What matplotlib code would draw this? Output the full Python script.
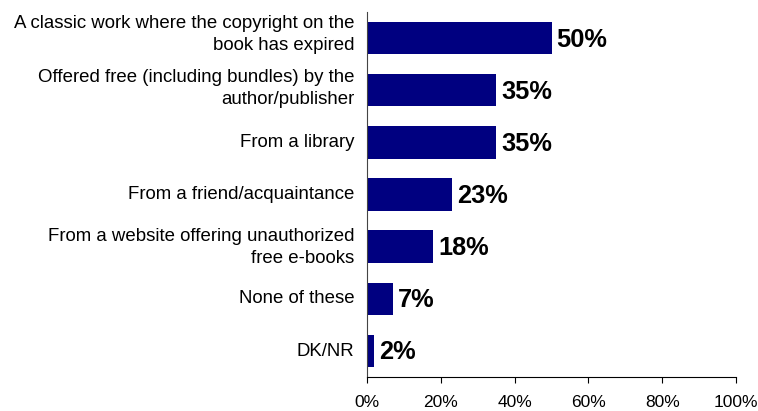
import matplotlib
matplotlib.use("Agg")
import matplotlib.pyplot as plt
from matplotlib.transforms import ScaledTranslation

# Where respondents got free e-books
sources = [
    "A classic work where the copyright on the\nbook has expired",
    "Offered free (including bundles) by the\nauthor/publisher",
    "From a library",
    "From a friend/acquaintance",
    "From a website offering unauthorized\nfree e-books",
    "None of these",
    "DK/NR",
]
shares = [50, 35, 35, 23, 18, 7, 2]
x_ticks = [0, 20, 40, 60, 80, 100]
x_tick_labels = ["0%", "20%", "40%", "60%", "80%", "100%"]

plt.rcParams["font.family"] = ["Liberation Sans", "DejaVu Sans"]

fig = plt.figure(figsize=(7.58, 4.11), dpi=100)
ax = fig.add_axes([367 / 758, 1 - 377 / 411, 369 / 758, 365 / 411])

pos = list(range(len(sources)))
ax.barh(pos, shares, height=0.62, color="#000080")

for p, v in zip(pos, shares):
    ax.text(v + 1.3, p + 0.03, f"{v}%", va="center", ha="left",
            fontsize=18.3, fontweight="bold", color="black")

ax.set_xlim(0, 100)
ax.set_ylim(len(sources) - 0.5, -0.5)
ax.set_yticks(pos)
ax.set_yticklabels(sources, fontsize=13.4, linespacing=1.4, ha="right")
ax.set_xticks(x_ticks)
ax.set_xticklabels(x_tick_labels, fontsize=12.5)

ax.tick_params(axis="y", length=0, pad=9)
ax.tick_params(axis="x", length=4, direction="out", pad=9)

# nudge the category labels up a little (pixels)
lifts = [8, 6, 2, 2, 4, 2, 1]
for lab, dy in zip(ax.get_yticklabels(), lifts):
    lab.set_transform(lab.get_transform() + ScaledTranslation(0, dy / 100, fig.dpi_scale_trans))

ax.spines["top"].set_visible(False)
ax.spines["right"].set_visible(False)
ax.spines["left"].set_color("#444444")

plt.savefig("out.png", dpi=100)
